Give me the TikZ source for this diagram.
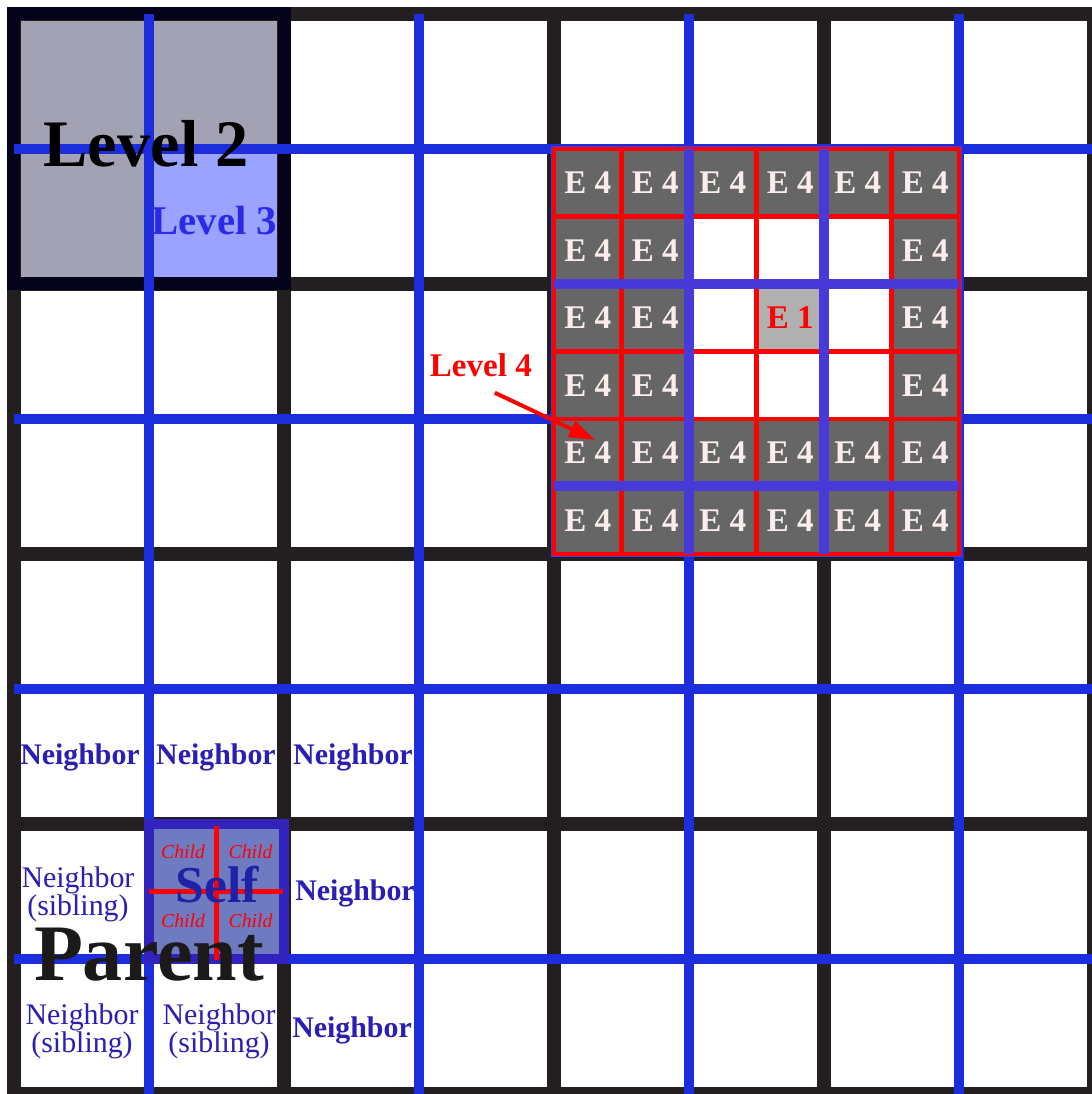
\documentclass[tikz,border=0pt]{standalone}
\usepackage{fontspec}
\setmainfont{Liberation Serif}
\usetikzlibrary{arrows.meta}
\definecolor{gridblk}{HTML}{231F20}
\definecolor{gridblue}{HTML}{1C2EDC}
\definecolor{lvpurple}{HTML}{483AD8}
\definecolor{lvtwofill}{HTML}{A3A2B4}
\definecolor{lvtwoedge}{HTML}{05031A}
\definecolor{lvthreefill}{HTML}{9AA3FF}
\definecolor{lvthreeink}{HTML}{2A2AE8}
\definecolor{cellgrey}{HTML}{666666}
\definecolor{eonegrey}{HTML}{B0B0B0}
\definecolor{cellink}{HTML}{FCEDED}
\definecolor{selffill}{HTML}{6F7BC0}
\definecolor{selfedge}{HTML}{3222BE}
\definecolor{selfink}{HTML}{1E22A8}
\definecolor{nbblue}{HTML}{2A1EB4}
\begin{document}
\begin{tikzpicture}[x=1.35cm,y=1.35cm,>={Triangle[length=2.6mm,width=1.7mm]},
 blk/.style={draw=gridblk,line width=1.4mm,line cap=rect},
 blu/.style={draw=gridblue,line width=1mm},
 pur/.style={draw=lvpurple,line width=1mm},
 rl/.style={draw=red,line width=0.45mm,line cap=rect},
 t/.style={inner sep=0pt,anchor=base},
 ecell/.style={fill=cellgrey,minimum size=0.675cm,inner sep=0pt,text=cellink,
 font=\fontsize{9.4}{10}\selectfont\bfseries},
 nb/.style={t,text=nbblue,font=\fontsize{8.5}{9}\selectfont\bfseries},
 sib/.style={inner sep=0pt,text=nbblue,align=center,font=\fontsize{8.5}{8}\selectfont},
 ch/.style={t,text=red,font=\fontsize{5.6}{6}\selectfont\itshape}]
\clip (-0.1037,0) rectangle (7.985,8.1037);
\fill[white] (-0.1037,0) rectangle (7.985,8.1037);
% level 2 and level 3 cells
\fill[lvtwofill] (0,6) rectangle (2,8);
\fill[lvthreefill] (1,6) rectangle (2,7);
% coarse grid, level 2 frame, fine grid
\foreach \i in {0,2,...,8} {
 \draw[blk] (\i,0) -- (\i,8);
 \draw[blk] (0,\i) -- (8,\i);
}
\draw[draw=lvtwoedge,line width=1.3mm] (0,6) rectangle (2,8);
\foreach \i in {1,3,5,7} {
 \draw[blu] (\i,8) -- (\i,0);
 \draw[blu] (0,\i) -- (8.2,\i);
}
% level 4 block
\filldraw[fill=white,draw=lvpurple,line width=0.6mm] (4,4) rectangle (7,7);
\foreach \r in {0,4,5} \foreach \c in {0,...,5}
 \node[ecell] (e\r\c) at ({4.25+0.5*\c},{6.75-0.5*\r}) {E 4};
\foreach \r in {1,2,3} \foreach \c in {0,1,5}
 \node[ecell] (e\r\c) at ({4.25+0.5*\c},{6.75-0.5*\r}) {E 4};
\node[ecell,fill=eonegrey,text=red] (e23) at (5.75,5.75) {E 1};
\foreach \i in {0,...,6} {
 \draw[rl] ({4+0.5*\i},4) -- ({4+0.5*\i},7);
 \draw[rl] (4,{4+0.5*\i}) -- (7,{4+0.5*\i});
}
\draw[pur] (5,7) -- (5,4); \draw[pur] (6,7) -- (6,4);
\draw[pur] (4,6) -- (7,6); \draw[pur] (4,4.5) -- (7,4.5);
% self and its children
\filldraw[fill=selffill,draw=selfedge,line width=1mm] (1,1) rectangle (2,2);
\draw[red,line width=0.45mm] (1.5,1.985) -- (1.5,0.995);
\draw[red,line width=0.45mm] (1,1.5) -- (1.99,1.5);
% labels
\node[t,font=\fontsize{18.9}{20}\selectfont\bfseries] (lvtwo) at (0.978,6.867) {Level 2};
\node[t,text=lvthreeink,font=\fontsize{11.6}{12}\selectfont\bfseries] (lvthree) at (1.485,6.37) {Level 3};
\node[t,text=red,font=\fontsize{9.4}{10}\selectfont\bfseries] (lvfour) at (3.458,5.313) {Level 4};
\coordinate (tip) at (4.304,4.844);
\draw[->,red,line width=0.4mm] ([xshift=1.4mm,yshift=-1.5mm]lvfour.south) -- (tip);
\node[nb] (nbA) at (0.489,2.437) {Neighbor};
\node[nb] (nbB) at (1.496,2.437) {Neighbor};
\node[nb] (nbC) at (2.511,2.437) {Neighbor};
\node[sib] (sibA) at (0.474,1.481) {Neighbor\\(sibling)};
\node[nb] (nbD) at (2.526,1.437) {Neighbor};
\node[ch] (chA) at (1.252,1.748) {Child};
\node[ch] (chB) at (1.752,1.748) {Child};
\node[ch] (chC) at (1.252,1.237) {Child};
\node[ch] (chD) at (1.752,1.237) {Child};
\node[t,text=selfink,font=\fontsize{14.7}{15}\selectfont\bfseries] (self) at (1.504,1.422) {Self};
\node[t,text=gridblk!80!black,font=\fontsize{22.8}{24}\selectfont\bfseries] (parent) at (1.0,0.844) {Parent};
\node[sib] (sibB) at (0.504,0.467) {Neighbor\\(sibling)};
\node[sib] (sibC) at (1.519,0.467) {Neighbor\\(sibling)};
\node[nb] (nbE) at (2.504,0.422) {Neighbor};
\end{tikzpicture}
\end{document}
